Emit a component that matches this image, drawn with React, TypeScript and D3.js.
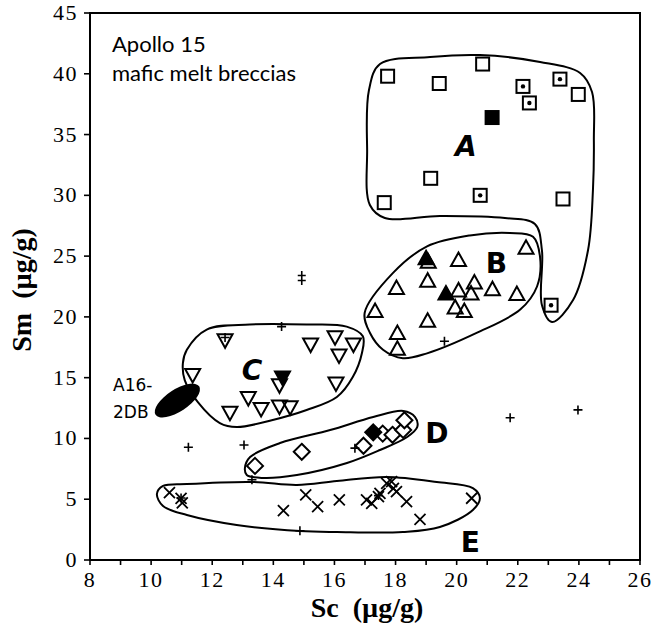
import React from "react";
import * as d3 from "d3";

const W = 658;
const H = 630;

const xTicks = [8, 10, 12, 14, 16, 18, 20, 22, 24, 26];
const xMinorTicks = d3.range(8, 27, 1);
const yTicks = [0, 5, 10, 15, 20, 25, 30, 35, 40, 45];

// Group A (squares)
const squaresOpen: [number, number][] = [
  [17.74, 39.8], [20.85, 40.8], [19.43, 39.2], [23.98, 38.3],
  [19.15, 31.4], [17.63, 29.4], [23.48, 29.7],
];
const squaresDotted: [number, number][] = [
  [22.17, 38.96], [23.38, 39.56], [22.38, 37.6], [20.77, 30.0], [23.09, 20.96],
];
const squaresFilled: [number, number][] = [[21.16, 36.4]];

// Group B (triangles)
const triUp: [number, number][] = [
  [19.07, 24.55], [20.06, 24.7], [22.27, 25.7], [18.03, 22.4], [19.05, 23.0],
  [20.06, 22.2], [20.58, 22.85], [20.47, 21.95], [21.17, 22.3], [21.97, 21.9],
  [17.33, 20.5], [19.95, 20.8], [20.25, 20.5], [19.05, 19.7], [18.06, 18.7],
  [18.06, 17.4],
];
const triUpFilled: [number, number][] = [[19.0, 24.85], [19.65, 21.95]];

// Group C (inverted triangles)
const triDown: [number, number][] = [
  [12.42, 18.05], [15.22, 17.7], [16.02, 18.3], [16.62, 17.7], [16.15, 16.8],
  [11.36, 15.2], [14.2, 14.35], [16.05, 14.5], [13.18, 13.3], [12.58, 12.1],
  [13.6, 12.4], [14.2, 12.6], [14.55, 12.55],
];
const triDownFilled: [number, number][] = [[14.3, 15.0]];

// Group D (diamonds)
const diamonds: [number, number][] = [
  [13.4, 7.74], [14.93, 8.9], [16.95, 9.4], [17.58, 10.4], [17.9, 10.3],
  [18.25, 10.7], [18.29, 11.5],
];
const diamondsFilled: [number, number][] = [[17.27, 10.5]];

// Group E (x marks)
const xMarks: [number, number][] = [
  [10.6, 5.54], [10.98, 5.07], [11.02, 4.7], [14.33, 4.06], [15.06, 5.35],
  [15.45, 4.39], [16.16, 4.94], [17.05, 4.94], [17.22, 4.66], [17.44, 5.21],
  [17.49, 5.49], [17.71, 6.31], [17.87, 6.44], [17.93, 5.9], [18.03, 5.62],
  [18.36, 4.8], [18.8, 3.35], [20.49, 5.08],
];

// ungrouped (+)
const crosses: [number, number][] = [
  [14.27, 19.2], [11.22, 9.27], [13.04, 9.46], [13.3, 6.6], [14.87, 2.41],
  [19.6, 18.0], [21.75, 11.7], [23.97, 12.35], [16.67, 9.2], [12.42, 18.3],
  [17.44, 5.3], [10.98, 5.1],
];
const doubleCrosses: [number, number][] = [[14.93, 23.2]];

// A16-2DB field (ellipse) centre
const a16Center: [number, number] = [10.86, 13.12];

// Group outlines (data units)
const outlineA: [number, number][] = [
  [17.49, 40.8], [19.13, 41.38], [20.76, 41.54], [22.73, 40.97], [24.04, 40.06],
  [24.43, 38.5], [24.49, 34.55], [24.46, 30.44], [24.3, 25.5], [23.81, 21.39],
  [23.12, 19.58], [22.79, 20.98], [22.79, 25.5], [22.56, 27.64], [21.58, 28.13],
  [19.45, 28.3], [17.65, 28.13], [17.16, 29.2], [17.07, 33.73], [17.13, 38.66],
];
const outlineB: [number, number][] = [
  [16.99, 20.34], [17.91, 23.6], [19.03, 25.8], [20.43, 26.7], [21.74, 26.9],
  [22.5, 26.6], [22.73, 24.9], [22.63, 22.5], [22.08, 20.6], [20.67, 18.7],
  [19.03, 17.0], [18.24, 16.6], [17.59, 17.3], [17.16, 18.7],
];
const outlineC: [number, number][] = [
  [11.17, 17.3], [11.82, 18.96], [13.23, 19.37], [15.09, 19.37], [16.4, 19.2],
  [16.93, 18.4], [16.9, 17.03], [16.6, 15.05], [16.08, 13.41], [15.09, 12.34],
  [13.98, 11.52], [12.8, 10.94], [12.25, 11.27], [11.53, 12.99], [11.1, 14.8],
  [11.04, 16.2],
];
const outlineD: [number, number][] = [
  [13.07, 7.57], [13.24, 8.47], [14.22, 9.62], [15.86, 10.69], [17.27, 11.76],
  [18.25, 12.26], [18.64, 11.76], [18.71, 10.94], [18.38, 10.12], [17.49, 9.05],
  [16.41, 7.98], [14.77, 6.99], [13.66, 6.75], [13.13, 6.99],
];
const outlineE: [number, number][] = [
  [10.19, 5.43], [10.39, 6.09], [11.17, 6.25], [13.33, 6.42], [14.77, 6.17],
  [16.08, 6.5], [17.71, 6.83], [19.35, 6.42], [20.53, 5.92], [20.76, 5.1],
  [20.53, 4.11], [19.45, 2.71], [18.24, 2.3], [16.08, 2.3], [14.87, 2.38],
  [12.8, 2.88], [11.17, 3.7], [10.39, 4.44],
];

const groupLabels: { text: string; x: number; y: number; italic: boolean }[] = [
  { text: "A", x: 20.3, y: 34.0, italic: true },
  { text: "B", x: 21.3, y: 24.4, italic: false },
  { text: "C", x: 13.3, y: 15.6, italic: true },
  { text: "D", x: 19.35, y: 10.4, italic: false },
  { text: "E", x: 20.45, y: 1.4, italic: false },
];

const x = d3.scaleLinear().domain([8, 26]).range([90, 640]);
const y = d3.scaleLinear().domain([0, 45]).range([560, 13]);

const outlineLine = d3
  .line<[number, number]>()
  .x((d) => x(d[0]))
  .y((d) => y(d[1]))
  .curve(d3.curveCatmullRomClosed.alpha(0.5));

const SW = 2;

function Square({ p, kind }: { p: [number, number]; kind: "open" | "dot" | "fill" }) {
  const s = 13;
  const cx = x(p[0]);
  const cy = y(p[1]);
  return (
    <g>
      <rect
        x={cx - s / 2}
        y={cy - s / 2}
        width={s}
        height={s}
        fill={kind === "fill" ? "#000" : "#fff"}
        stroke="#000"
        strokeWidth={SW}
      />
      {kind === "dot" && <circle cx={cx} cy={cy} r={2.2} fill="#000" />}
    </g>
  );
}

function Tri({ p, up, filled }: { p: [number, number]; up: boolean; filled: boolean }) {
  const cx = x(p[0]);
  const cy = y(p[1]);
  const w = 15;
  const h = 12.5;
  const s = up ? 1 : -1;
  const pts = [
    [cx, cy - (s * h) / 2 - s * 1],
    [cx - w / 2, cy + (s * h) / 2],
    [cx + w / 2, cy + (s * h) / 2],
  ];
  return (
    <polygon
      points={pts.map((q) => q.join(",")).join(" ")}
      fill={filled ? "#000" : "none"}
      stroke="#000"
      strokeWidth={SW}
      strokeLinejoin="miter"
    />
  );
}

function Diamond({ p, filled }: { p: [number, number]; filled: boolean }) {
  const cx = x(p[0]);
  const cy = y(p[1]);
  const r = 8;
  return (
    <polygon
      points={`${cx},${cy - r} ${cx + r},${cy} ${cx},${cy + r} ${cx - r},${cy}`}
      fill={filled ? "#000" : "#fff"}
      stroke="#000"
      strokeWidth={SW}
    />
  );
}

function XMark({ p }: { p: [number, number] }) {
  const cx = x(p[0]);
  const cy = y(p[1]);
  const r = 5.5;
  return (
    <path
      d={`M${cx - r},${cy - r}L${cx + r},${cy + r}M${cx + r},${cy - r}L${cx - r},${cy + r}`}
      stroke="#000"
      strokeWidth={1.8}
    />
  );
}

function Cross({ p }: { p: [number, number] }) {
  const cx = x(p[0]);
  const cy = y(p[1]);
  const r = 4.5;
  return (
    <path
      d={`M${cx - r},${cy}L${cx + r},${cy}M${cx},${cy - r}L${cx},${cy + r}`}
      stroke="#000"
      strokeWidth={1.6}
    />
  );
}

function DoubleCross({ p }: { p: [number, number] }) {
  const cx = x(p[0]);
  const cy = y(p[1]);
  return (
    <path
      d={`M${cx - 4},${cy - 2.5}L${cx + 4},${cy - 2.5}M${cx - 4},${cy + 2.5}L${cx + 4},${cy + 2.5}M${cx},${cy - 7}L${cx},${cy + 7}`}
      stroke="#000"
      strokeWidth={1.6}
    />
  );
}

export default function App() {
  const serif = "'Liberation Serif', 'Times New Roman', serif";
  const sans = "'Lato', 'Open Sans', sans-serif";
  const hand = "'DejaVu Sans', sans-serif";
  const ex = x(a16Center[0]);
  const ey = y(a16Center[1]);
  return (
    <svg
      width={W}
      height={H}
      style={{ position: "absolute", left: 0, top: 0, background: "#fff" }}
    >
      <rect x={0} y={0} width={W} height={H} fill="#fff" />
      {/* frame */}
      <rect
        x={x(8)}
        y={y(45)}
        width={x(26) - x(8)}
        height={y(0) - y(45)}
        fill="none"
        stroke="#000"
        strokeWidth={2}
      />
      {/* x ticks */}
      {xMinorTicks.map((t) => (
        <line key={"xt" + t} x1={x(t)} x2={x(t)} y1={y(0)} y2={y(0) + 5} stroke="#000" strokeWidth={1.6} />
      ))}
      {xTicks.map((t) => (
        <text
          key={"xl" + t}
          x={x(t)}
          y={y(0) + 27}
          textAnchor="middle"
          fontFamily={serif}
          fontSize={22}
          letterSpacing={1.5}
        >
          {t}
        </text>
      ))}
      {/* y ticks */}
      {yTicks.map((t) => (
        <g key={"yt" + t}>
          <line x1={x(8) - 6} x2={x(8)} y1={y(t)} y2={y(t)} stroke="#000" strokeWidth={1.6} />
          <text
            x={x(8) - 12}
            y={y(t) + 7}
            textAnchor="end"
            fontFamily={serif}
            fontSize={22}
            letterSpacing={1.5}
          >
            {t}
          </text>
        </g>
      ))}
      {/* axis titles */}
      <text
        x={367}
        y={617}
        textAnchor="middle"
        fontFamily={serif}
        fontWeight="bold"
        fontSize={28}
      >
        Sc{"\u00a0\u00a0"}(µg/g)
      </text>
      <text
        transform={`translate(31,290) rotate(-90)`}
        textAnchor="middle"
        fontFamily={serif}
        fontWeight="bold"
        fontSize={28}
      >
        Sm{"\u00a0\u00a0"}(µg/g)
      </text>
      {/* chart title */}
      <text x={112} y={52} fontFamily={sans} fontSize={22}>
        Apollo 15
      </text>
      <text x={112} y={81} fontFamily={sans} fontSize={22}>
        mafic melt breccias
      </text>

      {/* outlines */}
      {[outlineA, outlineB, outlineC, outlineD, outlineE].map((o, i) => (
        <path key={"ol" + i} d={outlineLine(o) || ""} fill="none" stroke="#000" strokeWidth={2} />
      ))}

      {/* A16-2DB */}
      <ellipse
        cx={ex}
        cy={ey}
        rx={26}
        ry={11}
        transform={`rotate(-33,${ex},${ey})`}
        fill="#000"
      />
      <text x={113} y={391} fontFamily={hand} fontSize={17}>
        A16-
      </text>
      <text x={113} y={418} fontFamily={hand} fontSize={17}>
        2DB
      </text>

      {/* markers */}
      {squaresOpen.map((p, i) => <Square key={"so" + i} p={p} kind="open" />)}
      {squaresDotted.map((p, i) => <Square key={"sd" + i} p={p} kind="dot" />)}
      {squaresFilled.map((p, i) => <Square key={"sf" + i} p={p} kind="fill" />)}
      {triUp.map((p, i) => <Tri key={"tu" + i} p={p} up={true} filled={false} />)}
      {triUpFilled.map((p, i) => <Tri key={"tuf" + i} p={p} up={true} filled={true} />)}
      {triDown.map((p, i) => <Tri key={"td" + i} p={p} up={false} filled={false} />)}
      {triDownFilled.map((p, i) => <Tri key={"tdf" + i} p={p} up={false} filled={true} />)}
      {diamonds.map((p, i) => <Diamond key={"di" + i} p={p} filled={false} />)}
      {diamondsFilled.map((p, i) => <Diamond key={"dif" + i} p={p} filled={true} />)}
      {xMarks.map((p, i) => <XMark key={"xm" + i} p={p} />)}
      {crosses.map((p, i) => <Cross key={"cr" + i} p={p} />)}
      {doubleCrosses.map((p, i) => <DoubleCross key={"dc" + i} p={p} />)}

      {/* group letters */}
      {groupLabels.map((g) => (
        <text
          key={g.text}
          x={x(g.x)}
          y={y(g.y)}
          textAnchor="middle"
          dominantBaseline="central"
          fontFamily={hand}
          fontWeight="bold"
          fontStyle={g.italic ? "italic" : "normal"}
          fontSize={28}
        >
          {g.text}
        </text>
      ))}
    </svg>
  );
}
